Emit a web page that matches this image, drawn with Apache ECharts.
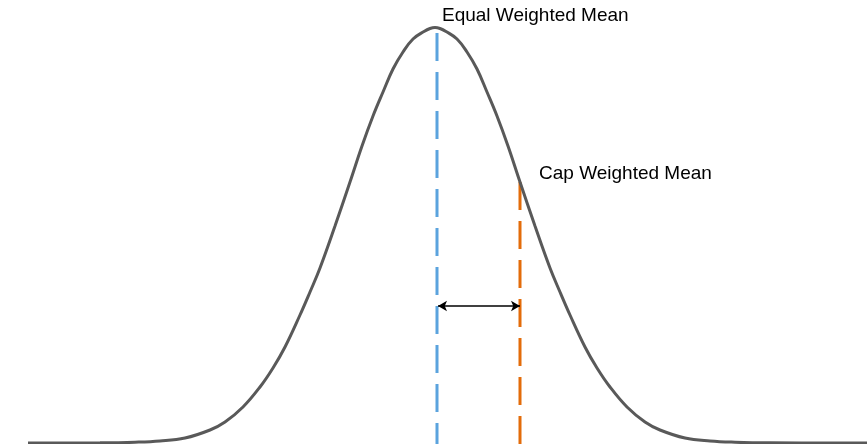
<!DOCTYPE html>
<html>
<head>
<meta charset="utf-8">
<script src="https://cdn.jsdelivr.net/npm/echarts@6/dist/echarts.min.js"></script>
<style>
html,body{margin:0;padding:0;background:#fff;}
#chart{width:867px;height:444px;}
</style>
</head>
<body>
<div id="chart"></div>
<script>
// Distribution curve (x position, height above baseline)
var curveX = [28, 100, 135, 160, 185, 210, 225, 243, 260, 273, 285, 300, 310, 320, 335, 350, 362, 373, 383, 393, 403, 413, 424, 430, 435,
              440, 446, 457, 467, 477, 487, 497, 508, 520, 535, 550, 560, 570, 585, 597, 610, 627, 645, 660, 685, 710, 735, 770, 867];
var curveY = [1, 1.2, 1.8, 3, 6, 14, 22, 37, 57, 76, 97, 129, 152, 176, 218, 262, 298, 328, 352, 375, 392, 405, 412.5, 415.5, 416.5,
              415.5, 412.5, 405, 392, 375, 352, 328, 298, 262, 218, 176, 152, 129, 97, 76, 57, 37, 22, 14, 6, 3, 1.8, 1.2, 1];
// Means
var meanLabels = ['Equal Weighted Mean', 'Cap Weighted Mean'];
var meanX = [437, 520];
var meanTop = [411, 262];
var arrowLevel = 138;

var curveData = curveX.map(function (x, i) { return [x, curveY[i]]; });

var chart = echarts.init(document.getElementById('chart'));
chart.setOption({
  animation: false,
  grid: {left: 0, right: 0, top: 0, bottom: 0},
  xAxis: {type: 'value', min: 0, max: 867, show: false},
  yAxis: {type: 'value', min: 0, max: 444, show: false},
  series: [
    {
      type: 'line',
      data: curveData,
      smooth: 0.4,
      symbol: 'none',
      lineStyle: {color: '#595959', width: 3},
      z: 3
    },
    {
      type: 'line',
      data: [[meanX[0], meanTop[0]], [meanX[0], 0]],
      symbol: 'none',
      lineStyle: {color: '#5BA3DE', width: 3, type: [28, 11]},
      z: 2
    },
    {
      type: 'line',
      data: [[meanX[1], meanTop[1]], [meanX[1], 0]],
      symbol: 'none',
      lineStyle: {color: '#E36C0A', width: 3, type: [28, 11]},
      z: 2,
      markLine: {
        silent: true,
        symbol: ['arrow', 'arrow'],
        symbolSize: [8, 9],
        label: {show: false},
        lineStyle: {color: '#000', width: 1.5, type: 'solid'},
        data: [[{coord: [meanX[0] + 1, arrowLevel]}, {coord: [meanX[1], arrowLevel]}]]
      }
    }
  ],
  graphic: [
    {type: 'text', left: 442, top: 6, style: {text: meanLabels[0], font: '19px "Liberation Sans", Arial, sans-serif', fill: '#000'}},
    {type: 'text', left: 539, top: 164, style: {text: meanLabels[1], font: '19px "Liberation Sans", Arial, sans-serif', fill: '#000'}}
  ]
});
</script>
</body>
</html>
